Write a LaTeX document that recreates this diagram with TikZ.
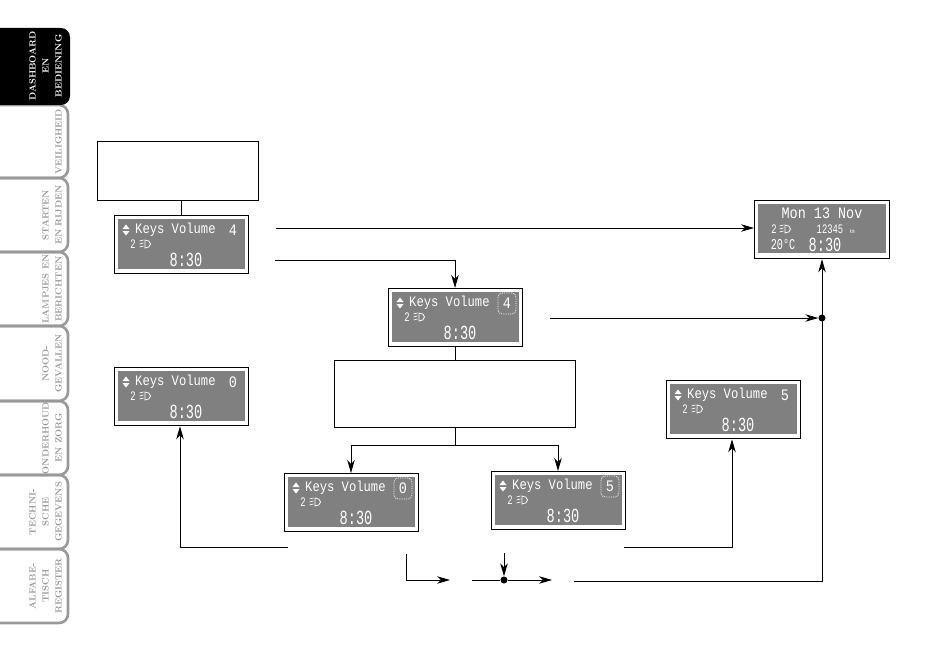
\documentclass[tikz,border=0pt]{standalone}
\usepackage{fontspec}
\setmonofont{Liberation Mono}
\newfontfamily\lcdfont[FakeStretch=0.84]{Liberation Mono}
\newfontfamily\lcdnarrow[FakeStretch=0.68]{Liberation Mono}
\usetikzlibrary{arrows.meta, calc}
\definecolor{lcdgray}{HTML}{808080}
\definecolor{tabgray}{HTML}{999999}
\tikzset{
    emptybox/.style={draw=black, line width=1.1pt, fill=white, anchor=north west, inner sep=0pt},
    lcdframe/.style={draw=black, line width=1.3pt, fill=white, anchor=north west, inner sep=0pt, minimum width=134pt, minimum height=58pt},
    lcdfill/.style={fill=lcdgray, anchor=north west, inner sep=0pt, minimum width=127pt, minimum height=50pt},
    lcdtext/.style={text=white, inner sep=0pt, font=\lcdfont\fontsize{14.5}{15}\selectfont},
    lcdvalue/.style={text=white, inner sep=0pt, font=\lcdfont\fontsize{16}{17}\selectfont},
    lcdsmall/.style={text=white, inner sep=0pt, font=\lcdnarrow\fontsize{13}{14}\selectfont},
    lcdtime/.style={text=white, inner sep=0pt, font=\lcdnarrow\fontsize{20}{21}\selectfont},
    lcdmark/.style={draw=white, densely dotted, line width=0.8pt, rounded corners=4pt, minimum width=18pt, minimum height=21pt, inner sep=0pt},
    line/.style={draw=black, line width=0.9pt, -{Stealth[length=13pt, width=7.5pt, inset=4pt]}},
    plainline/.style={draw=black, line width=0.9pt},
    junction/.style={circle, fill=black, inner sep=0pt, minimum size=7pt},
    tabline/.style={draw=tabgray, line width=2.6pt, rounded corners=9pt},
    tabtext/.style={rotate=90, anchor=south, align=center, inner sep=0pt, font=\rmfamily\bfseries\fontsize{9}{13}\selectfont}
}
% the little lamp symbol of the display
\newcommand{\lampicon}[1]{
    \draw [white, line width=0.7pt] ($(#1)+(0.5,-3)$) -- ++(4,-1) ($(#1)+(0.5,0)$) -- ++(4,-1) ($(#1)+(0.5,3)$) -- ++(4,-1);
    \draw [white, line width=0.8pt] ($(#1)+(6,-4)$) -- ++(0,8) arc (-90:90:5.5 and -4) -- cycle;
}
% up and down triangles of the display
\newcommand{\updown}[1]{
    \fill [white] ($(#1)+(-3.5,-1)$) -- ++(7,0) -- ++(-3.5,-4.5) -- cycle;
    \fill [white] ($(#1)+(-3.5,1)$) -- ++(7,0) -- ++(-3.5,4.5) -- cycle;
}
% display: name, north west corner, value, marked or not
\newcommand{\lcdscreen}[4]{
    \begin{scope}[shift={(#2)}]
    \node [lcdframe] (#1) at (0,0) {};
    \node [lcdfill] (#1fill) at (3.5,4) {};
    \updown{12,15}
    \node [lcdtext, anchor=west] (#1title) at (21,15) {Keys Volume};
    \node [lcdvalue] (#1value) at (119,15) {#3};
    \ifx#4y\node [lcdmark] (#1mark) at (119,15.5) {};\fi
    \node [lcdsmall] (#1gear) at (19,29) {2};
    \lampicon{25,29}
    \node [lcdtime] (#1time) at (72,45) {8:30};
    \end{scope}
}
\begin{document}
\begin{tikzpicture}[x=1pt, y=-1pt]
    \useasboundingbox (0,0) rectangle (950,671);

    % side tabs
    \foreach \ya/\yb/\tabname/\tablabel in {
        105/178/tabB/VEILIGHEID,
        178/252/tabC/{STARTEN\\EN RIJDEN},
        252/326/tabD/{LAMPJES EN\\BERICHTEN},
        326/401/tabE/{NOOD-\\GEVALLEN},
        401/475/tabF/{ONDERHOUD\\EN ZORG},
        475/549/tabG/{TECHNI-\\SCHE\\GEGEVENS},
        549/623/tabH/{ALFABE-\\TISCH\\REGISTER}} {
        \draw [tabline] (0,\ya) -- (68,\ya) -- (68,\yb) -- (0,\yb);
        \node [tabtext, text=tabgray] (\tabname) at (62,{(\ya+\yb)/2}) {\tablabel};
    }
    \fill [black, rounded corners=9pt] (-12,28) -- (70,28) -- (70,105) -- (-12,105) -- cycle;
    \node [tabtext, text=white] (tabA) at (62,66) {DASHBOARD\\EN\\BEDIENING};

    % empty boxes
    \node [emptybox, minimum width=161pt, minimum height=59pt] (startBox) at (97,141) {};
    \node [emptybox, minimum width=241pt, minimum height=67pt] (menuBox) at (334,360) {};

    % displays
    \lcdscreen{keysStart}{114,215}{4}{n}
    \lcdscreen{keysMid}{388,288}{4}{y}
    \lcdscreen{keysZero}{284,473}{0}{y}
    \lcdscreen{keysFive}{491,471}{5}{y}
    \lcdscreen{keysLeft}{114,367}{0}{n}
    \lcdscreen{keysRight}{666,380}{5}{n}

    \node [lcdframe, minimum width=135pt] (clock) at (754,200) {};
    \node [lcdfill, minimum width=128pt, minimum height=49pt] (clockfill) at (758,204) {};
    \node [lcdtext, font=\lcdfont\fontsize{16}{17}\selectfont] (clockdate) at (822,213) {Mon 13 Nov};
    \node [lcdsmall] (clockgear) at (774,229) {2};
    \lampicon{779,229}
    \node [lcdsmall] (clockkm) at (830,229) {12345};
    \node [lcdsmall, font=\lcdnarrow\fontsize{6}{7}\selectfont] (clockunit) at (852,231) {km};
    \node [lcdsmall, font=\lcdnarrow\fontsize{15}{16}\selectfont] (clocktemp) at (783,245) {20°C};
    \node [lcdtime] (clocktime) at (825,245) {8:30};

    % free ends and corners
    \coordinate (topStart) at (276,228);
    \coordinate (midStart) at (275,260);
    \coordinate (midCorner) at (455,260);
    \coordinate (keysEnd) at (550,318);
    \coordinate (branch) at (455,445);
    \coordinate (branchL) at (351,445);
    \coordinate (branchR) at (558,445);
    \coordinate (leftStart) at (288,547);
    \coordinate (leftCorner) at (180,547);
    \coordinate (rightStart) at (624,547);
    \coordinate (rightCorner) at (732,547);
    \coordinate (stepTop) at (406,554);
    \coordinate (stepCorner) at (406,580);
    \coordinate (stepEnd) at (450,580);
    \coordinate (dotIn) at (472,580);
    \coordinate (dotTop) at (504,553);
    \coordinate (dotOut) at (552,580);
    \coordinate (clockStart) at (574,581);
    \coordinate (clockCorner) at (822,581);

    \node [junction] (dotLow) at (504,580) {};
    \node [junction] (dotHigh) at (822,318) {};

    % connectors
    \draw [plainline] (startBox.south -| keysStart.north) -- (keysStart.north);
    \draw [line] (topStart) -- (topStart -| clock.west);
    \draw [line] (midStart) -- (midCorner) -- (midCorner |- keysMid.north);
    \draw [line] (keysEnd) -- (dotHigh);
    \draw [plainline] (keysMid.south) -- (keysMid.south |- menuBox.north);
    \draw [plainline] (menuBox.south -| branch) -- (branch);
    \draw [line] (branch) -- (branchL) -- (branchL |- keysZero.north);
    \draw [line] (branch) -- (branchR) -- (branchR |- keysFive.north);
    \draw [line] (leftStart) -- (leftCorner) -- (leftCorner |- keysLeft.south);
    \draw [line] (rightStart) -- (rightCorner) -- (rightCorner |- keysRight.south);
    \draw [line] (stepTop) -- (stepCorner) -- (stepEnd);
    \draw [plainline] (dotIn) -- (dotLow);
    \draw [line] (dotLow) -- (dotOut);
    \draw [line] (dotTop) -- (dotLow);
    \draw [line] (clockStart) -- (clockCorner) -- (clockCorner |- clock.south);
\end{tikzpicture}
\end{document}
